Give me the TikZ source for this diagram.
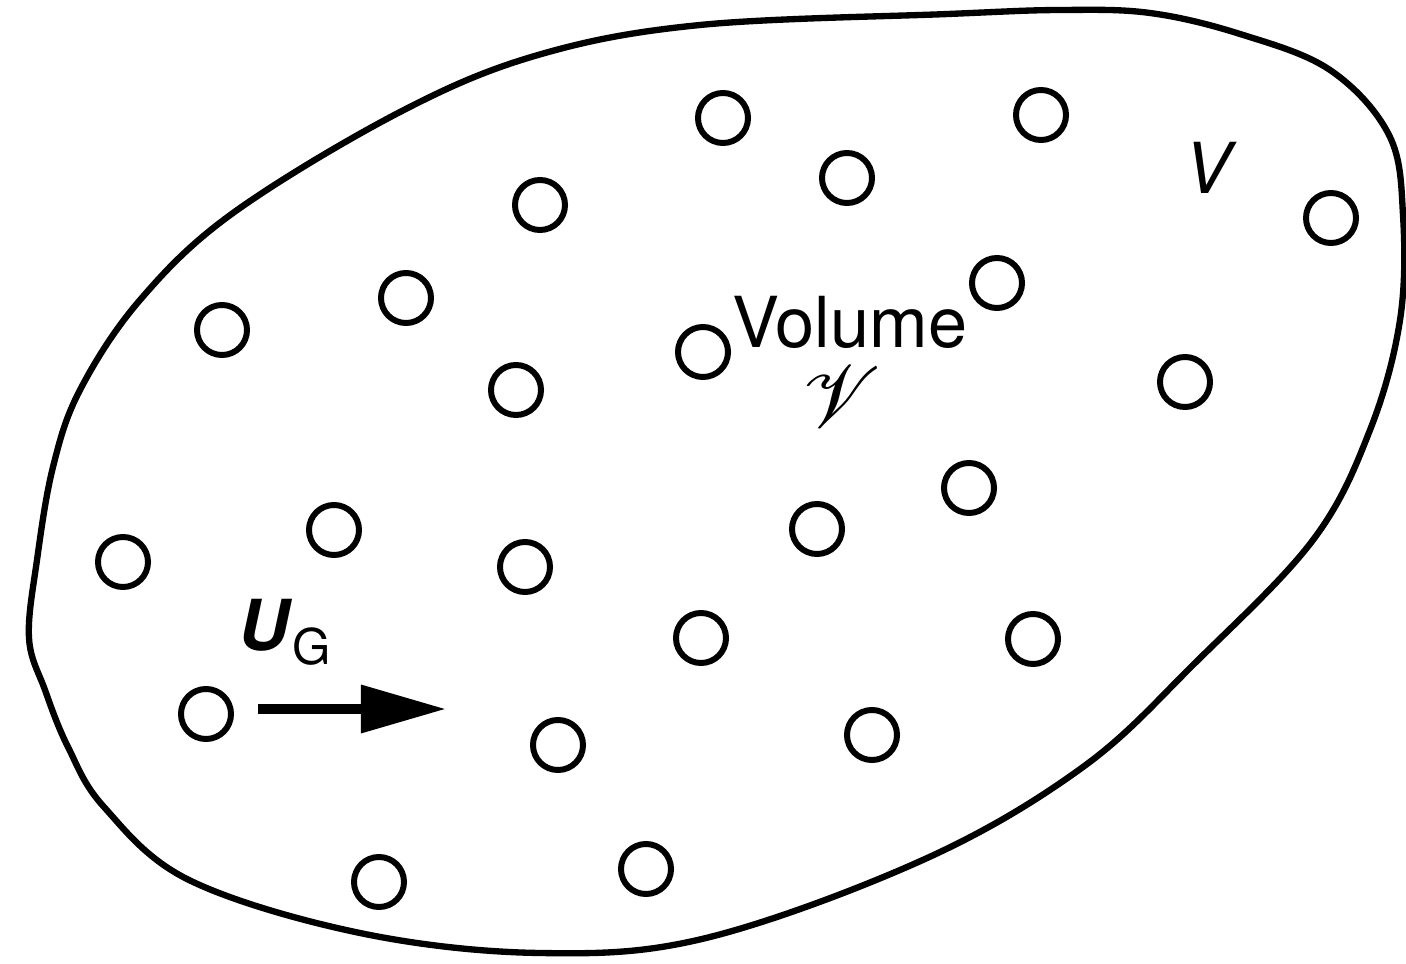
\documentclass[tikz,border=0pt]{standalone}
\usepackage{fontspec}
\usepackage{mathrsfs}
\setmainfont{TeX Gyre Heros}
\usetikzlibrary{arrows.meta,positioning}

\begin{document}
\begin{tikzpicture}[
  x=0.01cm, y=-0.01cm,
  bubble/.style={draw, circle, line width=1.7pt, minimum size=5mm, inner sep=0pt},
  lbl/.style={font=\fontsize{20}{24}\selectfont, inner sep=0pt},
  vel/.style={-{Triangle[length=8.5mm, width=4.6mm]}, line width=2.8pt}
]
\useasboundingbox (0,0) rectangle (1406,964);

% outline of the region
\draw[line width=1.8pt] plot[smooth cycle, tension=0.6] coordinates {
  (29,638) (37,560) (53,467) (80,390) (140,300) (233,213) (400,112)
  (538,55) (700,25) (948,14) (1060,10) (1150,13) (1240,34) (1330,70)
  (1389,135) (1403,215) (1400,320) (1370,430) (1313,540) (1195,663)
  (1083,767) (925,859) (706,938) (540,953) (360,933) (189,880)
  (104,807) (68,747) (45,690)};

% bubbles
\node[bubble] (b1) at (723,118) {};
\node[bubble] (b2) at (1041,115) {};
\node[bubble] (b3) at (847,178) {};
\node[bubble] (b4) at (540,205) {};
\node[bubble] (b5) at (1331,218) {};
\node[bubble] (b6) at (406,298) {};
\node[bubble] (b7) at (997,283) {};
\node[bubble] (b8) at (222,330) {};
\node[bubble] (b9) at (703,352) {};
\node[bubble] (b10) at (516,390) {};
\node[bubble] (b11) at (1185,382) {};
\node[bubble] (b12) at (969,488) {};
\node[bubble] (b13) at (334,530) {};
\node[bubble] (b14) at (817,529) {};
\node[bubble] (b15) at (123,562) {};
\node[bubble] (b16) at (525,567) {};
\node[bubble] (b17) at (701,638) {};
\node[bubble] (b18) at (1033,639) {};
\node[bubble] (b19) at (206,714) {};
\node[bubble] (b20) at (558,745) {};
\node[bubble] (b21) at (872,735) {};
\node[bubble] (b22) at (379,882) {};
\node[bubble] (b23) at (646,869) {};

% labels
\node[lbl, anchor=base] (vol) at (850,348) {Volume};
\node[inner sep=0pt, anchor=north, font=\fontsize{34}{36}\selectfont] (vcal) at (842,366) {$\mathscr{V}$};
\node[lbl, font=\fontsize{20}{24}\selectfont\itshape] (vlab) at (1208,168) {V};
\node[lbl, anchor=base west] (ug) at (238,650) {\textbf{\textit{U}}\raisebox{-4pt}{\fontsize{14}{14}\selectfont G}};

% gas velocity
\coordinate (ustart) at (258,709);
\coordinate (uend) at (446,709);
\draw[vel] (ustart) -- (uend);
\end{tikzpicture}
\end{document}
